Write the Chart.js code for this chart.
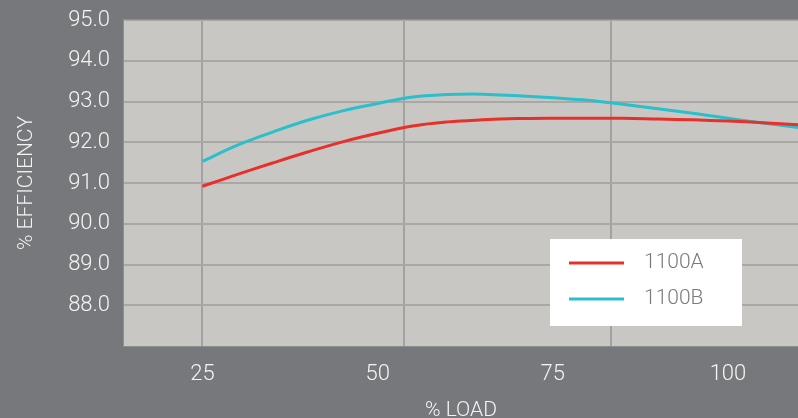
<!DOCTYPE html>
<html>
<head>
<meta charset="utf-8">
<script src="https://cdn.jsdelivr.net/npm/chart.js@4.4.1/dist/chart.umd.min.js"></script>
<style>
  html, body { margin: 0; padding: 0; background: #77787b; }
  #wrap { width: 798px; height: 418px; }
</style>
</head>
<body>
<div id="wrap"><canvas id="effChart" width="798" height="418"></canvas></div>
<script>
// % load on the x axis
const loads = [25, 30, 35, 40, 45, 50, 55, 60, 65, 70, 75, 80, 85, 90, 95, 100, 105, 110];
// % efficiency
const eff1100A = [90.92, 91.21, 91.49, 91.76, 92.01, 92.22, 92.40, 92.50, 92.55, 92.58, 92.59, 92.59, 92.59, 92.57, 92.55, 92.52, 92.48, 92.43];
const eff1100B = [91.53, 91.93, 92.25, 92.54, 92.77, 92.95, 93.11, 93.17, 93.18, 93.14, 93.09, 93.03, 92.93, 92.82, 92.71, 92.59, 92.47, 92.36];
const seriesNames = ['1100A', '1100B'];
const xTicks = [25, 50, 75, 100];
const yTicks = [88, 89, 90, 91, 92, 93, 94, 95];
// vertical grid lines in the original do not sit on the labels
const xGridAt = [25, 53.8, 83.3];

const BG = '#77787b';
const PLOT_BG = '#c8c7c4';
const GRID = '#a9a8a6';
const TXT = '#f4f4f4';
const FONT = 'Roboto';

const toPoints = (ys) => loads.map((x, i) => ({ x: x, y: ys[i] }));

const backdrop = {
  id: 'backdrop',
  beforeDraw(chart) {
    const { ctx, chartArea: a } = chart;
    ctx.save();
    ctx.fillStyle = BG;
    ctx.fillRect(0, 0, chart.width, chart.height);
    ctx.fillStyle = PLOT_BG;
    ctx.fillRect(a.left, a.top, a.right - a.left, a.bottom - a.top);
    ctx.restore();
  },
  afterDraw(chart) {
    const { ctx, chartArea: a } = chart;
    ctx.save();
    ctx.strokeStyle = '#8d8e90';
    ctx.lineWidth = 1;
    ctx.strokeRect(a.left - 0.5, a.top - 0.5, a.right - a.left + 1, a.bottom - a.top + 1);
    ctx.restore();
  }
};

// legend box drawn inside the plot, like the original
const boxLegend = {
  id: 'boxLegend',
  afterDatasetsDraw(chart) {
    const ctx = chart.ctx;
    ctx.save();
    ctx.fillStyle = '#ffffff';
    ctx.fillRect(550, 239, 192, 87);
    ctx.font = '300 21px ' + FONT;
    ctx.textBaseline = 'middle';
    chart.data.datasets.forEach((ds, i) => {
      const y = 263 + i * 36;
      ctx.strokeStyle = ds.borderColor;
      ctx.lineWidth = 3;
      ctx.beginPath();
      ctx.moveTo(569, y);
      ctx.lineTo(624, y);
      ctx.stroke();
      ctx.fillStyle = '#7a7a7c';
      ctx.fillText(ds.label, 644, y);
    });
    ctx.restore();
  }
};

new Chart(document.getElementById('effChart'), {
  type: 'line',
  data: {
    datasets: [{
      label: seriesNames[0],
      data: toPoints(eff1100A),
      borderColor: '#e8302a',
      borderWidth: 3,
      pointRadius: 0,
      tension: 0.4,
      xAxisID: 'x'
    }, {
      label: seriesNames[1],
      data: toPoints(eff1100B),
      borderColor: '#2bbfcc',
      borderWidth: 3,
      pointRadius: 0,
      tension: 0.4,
      xAxisID: 'x'
    }]
  },
  options: {
    responsive: false,
    animation: false,
    layout: { padding: { top: 20, right: 0, left: 0, bottom: 0 } },
    plugins: {
      legend: { display: false },
      tooltip: { enabled: false }
    },
    scales: {
      x: {
        type: 'linear',
        position: 'bottom',
        min: 13.8,
        max: 110,
        afterBuildTicks: (s) => { s.ticks = xTicks.map(v => ({ value: v })); },
        afterFit: (s) => { s.height = 72; },
        grid: { display: false },
        border: { display: false },
        ticks: {
          autoSkip: false,
          maxRotation: 0,
          color: TXT,
          padding: 7,
          font: { family: FONT, size: 22, weight: 300 }
        },
        title: {
          display: true,
          text: '% LOAD',
          color: TXT,
          padding: { top: 0, bottom: -3 },
          font: { family: FONT, size: 21, weight: 300, lineHeight: 1 }
        }
      },
      xg: {
        type: 'linear',
        position: 'bottom',
        min: 13.8,
        max: 110,
        afterBuildTicks: (s) => { s.ticks = xGridAt.map(v => ({ value: v })); },
        afterFit: (s) => { s.height = 0; },
        ticks: { display: false },
        border: { display: false },
        grid: { color: '#a3a2a0', lineWidth: 2, drawTicks: false }
      },
      y: {
        min: 87,
        max: 95,
        afterBuildTicks: (s) => { s.ticks = yTicks.map(v => ({ value: v })); },
        afterFit: (s) => { s.width = 124; s.paddingTop = 0; s.paddingBottom = 0; },
        border: { display: false },
        grid: { color: GRID, lineWidth: 2, drawTicks: false },
        ticks: {
          color: TXT,
          padding: 14,
          callback: (v) => Number(v).toFixed(1),
          font: { family: FONT, size: 22, weight: 300 }
        },
        title: {
          display: true,
          text: '% EFFICIENCY',
          color: TXT,
          padding: { top: 14, bottom: 0 },
          font: { family: FONT, size: 21, weight: 300 }
        }
      }
    }
  },
  plugins: [backdrop, boxLegend]
});
</script>
</body>
</html>
